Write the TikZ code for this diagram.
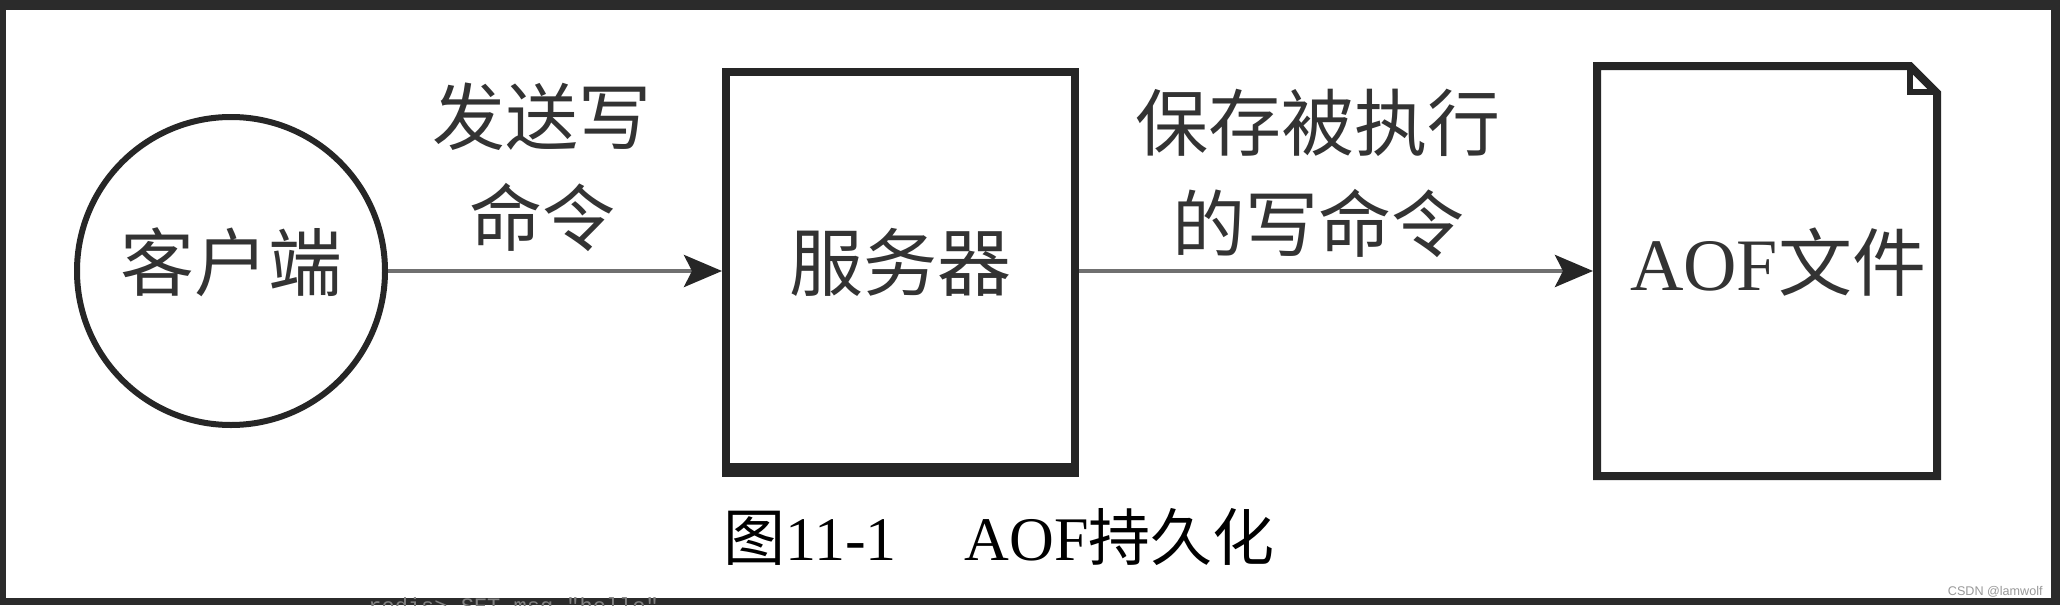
\documentclass[tikz,border=0pt]{standalone}
\usepackage{fontspec}
\setmainfont{Liberation Serif}
\newfontfamily\cjk{Noto Sans CJK SC}
\newfontfamily\wmfont{Liberation Sans}
\newfontfamily\codefont{Liberation Mono}
\usetikzlibrary{arrows.meta}
\definecolor{frame}{HTML}{2B2B2B}
\definecolor{ink}{HTML}{262626}
\definecolor{txt}{HTML}{333333}
\definecolor{linegray}{HTML}{707070}
\begin{document}
\begin{tikzpicture}[x=0.5pt,y=-0.5pt,
  shapeline/.style={draw=ink, fill=white, inner sep=0pt, text=txt,
    font=\cjk\fontsize{37pt}{44pt}\selectfont, text height=19pt, text depth=0pt},
  lbl/.style={text=txt, font=\cjk\fontsize{36.5pt}{44pt}\selectfont, inner sep=0pt, anchor=base},
  flow/.style={draw=linegray, line width=2.2pt,
    -{Stealth[length=19pt,width=16pt,inset=4pt,color=ink,fill=ink]}}
]
\useasboundingbox (0,0) rectangle (2060,605);
% screenshot frame
\fill[frame] (0,0) rectangle (2060,605);
\fill[white] (6,10) rectangle (2051,598);

% client circle
\node[shapeline, circle, line width=3pt, minimum size=154pt] (client) at (231,271) {客户端};

% server box
\node[shapeline, rectangle, line width=4pt, minimum width=174.5pt, minimum height=199pt] (server) at (900.5,271) {服务器};
\draw[ink, line width=7pt] ([yshift=2pt]server.south west) -- ([yshift=2pt]server.south east);

% AOF file (dog-eared page)
\node[rectangle, inner sep=0pt, outer sep=0pt, minimum width=170pt, minimum height=205pt,
  text=txt, font=\fontsize{37pt}{44pt}\selectfont, text height=19pt, text depth=0pt]
  (file) at (1767,271) {\hspace*{11pt}AOF{\cjk 文件}};
\draw[ink, line width=4pt, line join=miter]
  (file.south west) -- (file.north west) -- ([xshift=-13.5pt]file.north east)
  -- ([yshift=-13.5pt]file.north east) -- (file.south east) -- cycle;
\draw[ink, line width=3pt, line join=miter]
  ([xshift=-13.5pt]file.north east) -- ([xshift=-13.5pt,yshift=-13pt]file.north east)
  -- ([yshift=-13pt]file.north east);

% connectors
\draw[flow] (client.east) -- (server.west);
\draw[flow, shorten >=2pt] (server.east) -- (file.west);

% connector labels
\node[lbl] (sendA) at (542,144) {发送写};
\node[lbl] (sendB) at (542,245) {命令};
\node[lbl] (saveA) at (1318,150) {保存被执行};
\node[lbl] (saveB) at (1318,251) {的写命令};

% caption
\node[anchor=base west, inner sep=0pt, text=black, font=\fontsize{31pt}{36pt}\selectfont]
  (caption) at (723,560) {{\cjk 图}11-1\hspace{1.1em}AOF{\cjk 持久化}};

% watermark
\node[anchor=base east, inner sep=0pt, text=black!40, font=\wmfont\fontsize{6.3pt}{7pt}\selectfont]
  (wm) at (2043,595) {CSDN @lamwolf};

% cut-off line of the page below
\begin{scope}
\clip (0,0) rectangle (2060,605);
\node[anchor=north west, inner sep=0pt, text=black!50, font=\codefont\fontsize{11pt}{12pt}\selectfont]
  (code) at (368,597) {redis> SET msg "hello"};
\end{scope}
\end{tikzpicture}
\end{document}
